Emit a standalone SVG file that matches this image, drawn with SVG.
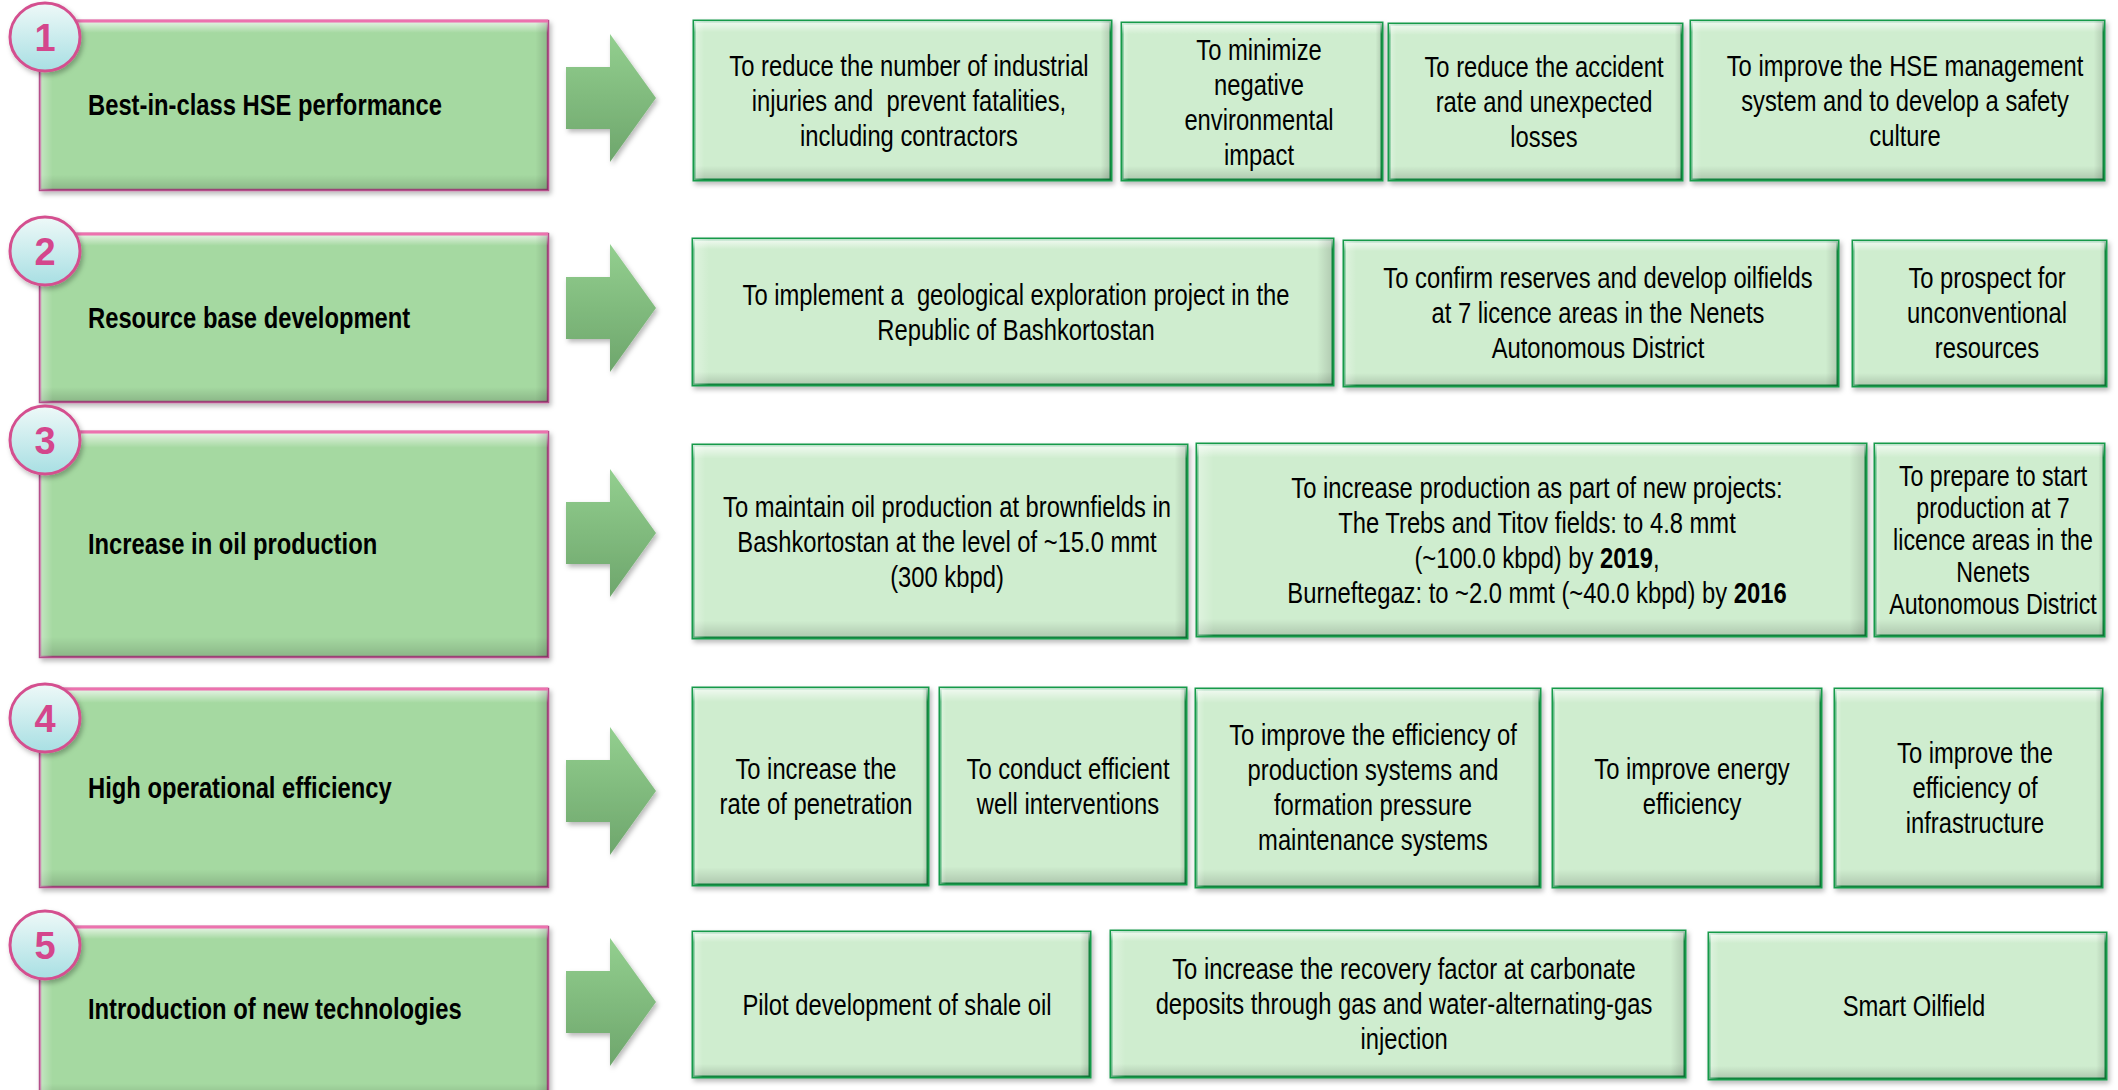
<svg xmlns="http://www.w3.org/2000/svg" xmlns:xlink="http://www.w3.org/1999/xlink" width="2118" height="1090" viewBox="0 0 2118 1090">
<defs>
  <linearGradient id="bevV" x1="0" y1="0" x2="0" y2="1">
    <stop offset="0" stop-color="#ffffff" stop-opacity="0.75"/>
    <stop offset="0.07" stop-color="#ffffff" stop-opacity="0"/>
    <stop offset="0.91" stop-color="#000000" stop-opacity="0"/>
    <stop offset="1" stop-color="#000000" stop-opacity="0.16"/>
  </linearGradient>
  <linearGradient id="bevH" x1="0" y1="0" x2="1" y2="0">
    <stop offset="0" stop-color="#ffffff" stop-opacity="0.35"/>
    <stop offset="0.025" stop-color="#ffffff" stop-opacity="0"/>
    <stop offset="0.975" stop-color="#000000" stop-opacity="0"/>
    <stop offset="1" stop-color="#000000" stop-opacity="0.15"/>
  </linearGradient>
  <linearGradient id="circ" x1="0" y1="0" x2="0" y2="1">
    <stop offset="0" stop-color="#eef9f8"/>
    <stop offset="1" stop-color="#a8dfe3"/>
  </linearGradient>
  <linearGradient id="arrG" x1="0" y1="0" x2="0" y2="1">
    <stop offset="0" stop-color="#93cf8f"/>
    <stop offset="1" stop-color="#6ea66c"/>
  </linearGradient>
  <filter id="sh" x="-10%" y="-10%" width="125%" height="135%">
    <feDropShadow dx="2" dy="3" stdDeviation="2.5" flood-color="#000" flood-opacity="0.28"/>
  </filter>
  <path id="arr" d="M566,-31 H610 V-64 L656,0 L610,64 V31 H566 Z"/>
</defs>
<style>
  .lb { fill:#a5d9a1; stroke:#b4508a; stroke-width:2.5; filter:url(#sh); }
  .lt { stroke:#ec72ae; stroke-width:3; }
  .rb { fill:#cfedcf; stroke:#139a4a; stroke-width:3; filter:url(#sh); }
  .bv { fill:url(#bevV); }
  .bh { fill:url(#bevH); }
  .cir { fill:url(#circ); stroke:#d4508f; stroke-width:3; filter:url(#sh); }
  .num { font-family:"Liberation Sans", Arial, sans-serif; font-weight:bold; font-size:38px; fill:#d4468c; text-anchor:middle; }
  .t { font-family:"Liberation Sans", Arial, sans-serif; font-size:29px; fill:#000; text-anchor:middle; }
  .h { font-family:"Liberation Sans", Arial, sans-serif; font-size:29px; font-weight:bold; fill:#000; }
  .b { font-weight:bold; }
  .ar { fill:url(#arrG); filter:url(#sh); }
</style>
<rect width="2118" height="1090" fill="#ffffff"/>

<!-- Left category boxes -->
<g id="cat1">
  <rect class="lb" x="40" y="21" width="508" height="169"/>
  <rect class="bv" x="40" y="21" width="508" height="169"/>
  <rect class="bh" x="40" y="21" width="508" height="169"/>
  <line class="lt" x1="40" y1="21" x2="548" y2="21"/>
  <ellipse class="cir" cx="45" cy="37" rx="35" ry="34"/>
  <text class="num" x="45" y="51">1</text>
  <text class="h" transform="translate(88,115) scale(0.82,1)">Best-in-class HSE performance</text>
</g>
<g id="cat2">
  <rect class="lb" x="40" y="234" width="508" height="168"/>
  <rect class="bv" x="40" y="234" width="508" height="168"/>
  <rect class="bh" x="40" y="234" width="508" height="168"/>
  <line class="lt" x1="40" y1="234" x2="548" y2="234"/>
  <ellipse class="cir" cx="45" cy="251" rx="35" ry="34"/>
  <text class="num" x="45" y="265">2</text>
  <text class="h" transform="translate(88,328) scale(0.82,1)">Resource base development</text>
</g>
<g id="cat3">
  <rect class="lb" x="40" y="432" width="508" height="225"/>
  <rect class="bv" x="40" y="432" width="508" height="225"/>
  <rect class="bh" x="40" y="432" width="508" height="225"/>
  <line class="lt" x1="40" y1="432" x2="548" y2="432"/>
  <ellipse class="cir" cx="45" cy="440" rx="35" ry="34"/>
  <text class="num" x="45" y="454">3</text>
  <text class="h" transform="translate(88,554) scale(0.82,1)">Increase in oil production</text>
</g>
<g id="cat4">
  <rect class="lb" x="40" y="689" width="508" height="198"/>
  <rect class="bv" x="40" y="689" width="508" height="198"/>
  <rect class="bh" x="40" y="689" width="508" height="198"/>
  <line class="lt" x1="40" y1="689" x2="548" y2="689"/>
  <ellipse class="cir" cx="45" cy="718" rx="35" ry="34"/>
  <text class="num" x="45" y="732">4</text>
  <text class="h" transform="translate(88,798) scale(0.82,1)">High operational efficiency</text>
</g>
<g id="cat5">
  <rect class="lb" x="40" y="927" width="508" height="172"/>
  <rect class="bv" x="40" y="927" width="508" height="172"/>
  <rect class="bh" x="40" y="927" width="508" height="172"/>
  <line class="lt" x1="40" y1="927" x2="548" y2="927"/>
  <ellipse class="cir" cx="45" cy="945" rx="35" ry="34"/>
  <text class="num" x="45" y="959">5</text>
  <text class="h" transform="translate(88,1019) scale(0.82,1)">Introduction of new technologies</text>
</g>

<!-- Connectors (block arrows) -->
<g id="connectors">
  <use class="ar" xlink:href="#arr" href="#arr" transform="translate(0,98)"/>
  <use class="ar" xlink:href="#arr" href="#arr" transform="translate(0,308)"/>
  <use class="ar" xlink:href="#arr" href="#arr" transform="translate(0,533)"/>
  <use class="ar" xlink:href="#arr" href="#arr" transform="translate(0,791)"/>
  <use class="ar" xlink:href="#arr" href="#arr" transform="translate(0,1002)"/>
</g>

<!-- Row 1 goals -->
<g id="g1a">
  <rect class="rb" x="694" y="21" width="417" height="159"/>
  <rect class="bv" x="694" y="21" width="417" height="159"/><rect class="bh" x="694" y="21" width="417" height="159"/>
  <text class="t" xml:space="preserve" transform="translate(909,0) scale(0.82,1)"><tspan x="0" y="76">To reduce the number of industrial</tspan><tspan x="0" y="111">injuries and  prevent fatalities,</tspan><tspan x="0" y="146">including contractors</tspan></text>
</g>
<g id="g1b">
  <rect class="rb" x="1122" y="23" width="260" height="157"/>
  <rect class="bv" x="1122" y="23" width="260" height="157"/><rect class="bh" x="1122" y="23" width="260" height="157"/>
  <text class="t" transform="translate(1259,0) scale(0.82,1)"><tspan x="0" y="60">To minimize</tspan><tspan x="0" y="95">negative</tspan><tspan x="0" y="130">environmental</tspan><tspan x="0" y="165">impact</tspan></text>
</g>
<g id="g1c">
  <rect class="rb" x="1389" y="24" width="293" height="156"/>
  <rect class="bv" x="1389" y="24" width="293" height="156"/><rect class="bh" x="1389" y="24" width="293" height="156"/>
  <text class="t" transform="translate(1544,0) scale(0.82,1)"><tspan x="0" y="77">To reduce the accident</tspan><tspan x="0" y="112">rate and unexpected</tspan><tspan x="0" y="147">losses</tspan></text>
</g>
<g id="g1d">
  <rect class="rb" x="1691" y="21" width="413" height="159"/>
  <rect class="bv" x="1691" y="21" width="413" height="159"/><rect class="bh" x="1691" y="21" width="413" height="159"/>
  <text class="t" transform="translate(1905,0) scale(0.82,1)"><tspan x="0" y="76">To improve the HSE management</tspan><tspan x="0" y="111">system and to develop a safety</tspan><tspan x="0" y="146">culture</tspan></text>
</g>

<!-- Row 2 goals -->
<g id="g2a">
  <rect class="rb" x="693" y="239" width="640" height="146"/>
  <rect class="bv" x="693" y="239" width="640" height="146"/><rect class="bh" x="693" y="239" width="640" height="146"/>
  <text class="t" xml:space="preserve" transform="translate(1016,0) scale(0.82,1)"><tspan x="0" y="305">To implement a  geological exploration project in the</tspan><tspan x="0" y="340">Republic of Bashkortostan</tspan></text>
</g>
<g id="g2b">
  <rect class="rb" x="1344" y="241" width="494" height="145"/>
  <rect class="bv" x="1344" y="241" width="494" height="145"/><rect class="bh" x="1344" y="241" width="494" height="145"/>
  <text class="t" transform="translate(1598,0) scale(0.82,1)"><tspan x="0" y="288">To confirm reserves and develop oilfields</tspan><tspan x="0" y="323">at 7 licence areas in the Nenets</tspan><tspan x="0" y="358">Autonomous District</tspan></text>
</g>
<g id="g2c">
  <rect class="rb" x="1853" y="241" width="253" height="145"/>
  <rect class="bv" x="1853" y="241" width="253" height="145"/><rect class="bh" x="1853" y="241" width="253" height="145"/>
  <text class="t" transform="translate(1987,0) scale(0.82,1)"><tspan x="0" y="288">To prospect for</tspan><tspan x="0" y="323">unconventional</tspan><tspan x="0" y="358">resources</tspan></text>
</g>

<!-- Row 3 goals -->
<g id="g3a">
  <rect class="rb" x="693" y="445" width="494" height="193"/>
  <rect class="bv" x="693" y="445" width="494" height="193"/><rect class="bh" x="693" y="445" width="494" height="193"/>
  <text class="t" transform="translate(947,0) scale(0.82,1)"><tspan x="0" y="517">To maintain oil production at brownfields in</tspan><tspan x="0" y="552">Bashkortostan at the level of ~15.0 mmt</tspan><tspan x="0" y="587">(300 kbpd)</tspan></text>
</g>
<g id="g3b">
  <rect class="rb" x="1197" y="444" width="669" height="192"/>
  <rect class="bv" x="1197" y="444" width="669" height="192"/><rect class="bh" x="1197" y="444" width="669" height="192"/>
  <text class="t" transform="translate(1537,0) scale(0.82,1)"><tspan x="0" y="498">To increase production as part of new projects:</tspan><tspan x="0" y="533">The Trebs and Titov fields: to 4.8 mmt</tspan><tspan x="0" y="568">(~100.0 kbpd) by <tspan class="b">2019</tspan>,</tspan><tspan x="0" y="603">Burneftegaz: to ~2.0 mmt (~40.0 kbpd) by <tspan class="b">2016</tspan></tspan></text>
</g>
<g id="g3c">
  <rect class="rb" x="1875" y="444" width="229" height="192"/>
  <rect class="bv" x="1875" y="444" width="229" height="192"/><rect class="bh" x="1875" y="444" width="229" height="192"/>
  <text class="t" transform="translate(1993,0) scale(0.8,1)"><tspan x="0" y="486">To prepare to start</tspan><tspan x="0" y="518">production at 7</tspan><tspan x="0" y="550">licence areas in the</tspan><tspan x="0" y="582">Nenets</tspan><tspan x="0" y="614">Autonomous District</tspan></text>
</g>

<!-- Row 4 goals -->
<g id="g4a">
  <rect class="rb" x="693" y="688" width="235" height="197"/>
  <rect class="bv" x="693" y="688" width="235" height="197"/><rect class="bh" x="693" y="688" width="235" height="197"/>
  <text class="t" transform="translate(816,0) scale(0.82,1)"><tspan x="0" y="779">To increase the</tspan><tspan x="0" y="814">rate of penetration</tspan></text>
</g>
<g id="g4b">
  <rect class="rb" x="940" y="688" width="246" height="196"/>
  <rect class="bv" x="940" y="688" width="246" height="196"/><rect class="bh" x="940" y="688" width="246" height="196"/>
  <text class="t" transform="translate(1068,0) scale(0.82,1)"><tspan x="0" y="779">To conduct efficient</tspan><tspan x="0" y="814">well interventions</tspan></text>
</g>
<g id="g4c">
  <rect class="rb" x="1196" y="689" width="344" height="198"/>
  <rect class="bv" x="1196" y="689" width="344" height="198"/><rect class="bh" x="1196" y="689" width="344" height="198"/>
  <text class="t" transform="translate(1373,0) scale(0.82,1)"><tspan x="0" y="745">To improve the efficiency of</tspan><tspan x="0" y="780">production systems and</tspan><tspan x="0" y="815">formation pressure</tspan><tspan x="0" y="850">maintenance systems</tspan></text>
</g>
<g id="g4d">
  <rect class="rb" x="1553" y="689" width="268" height="198"/>
  <rect class="bv" x="1553" y="689" width="268" height="198"/><rect class="bh" x="1553" y="689" width="268" height="198"/>
  <text class="t" transform="translate(1692,0) scale(0.82,1)"><tspan x="0" y="779">To improve energy</tspan><tspan x="0" y="814">efficiency</tspan></text>
</g>
<g id="g4e">
  <rect class="rb" x="1835" y="689" width="267" height="198"/>
  <rect class="bv" x="1835" y="689" width="267" height="198"/><rect class="bh" x="1835" y="689" width="267" height="198"/>
  <text class="t" transform="translate(1975,0) scale(0.82,1)"><tspan x="0" y="763">To improve the</tspan><tspan x="0" y="798">efficiency of</tspan><tspan x="0" y="833">infrastructure</tspan></text>
</g>

<!-- Row 5 goals -->
<g id="g5a">
  <rect class="rb" x="693" y="932" width="397" height="145"/>
  <rect class="bv" x="693" y="932" width="397" height="145"/><rect class="bh" x="693" y="932" width="397" height="145"/>
  <text class="t" transform="translate(897,0) scale(0.82,1)"><tspan x="0" y="1015">Pilot development of shale oil</tspan></text>
</g>
<g id="g5b">
  <rect class="rb" x="1111" y="931" width="574" height="146"/>
  <rect class="bv" x="1111" y="931" width="574" height="146"/><rect class="bh" x="1111" y="931" width="574" height="146"/>
  <text class="t" transform="translate(1404,0) scale(0.82,1)"><tspan x="0" y="979">To increase the recovery factor at carbonate</tspan><tspan x="0" y="1014">deposits through gas and water-alternating-gas</tspan><tspan x="0" y="1049">injection</tspan></text>
</g>
<g id="g5c">
  <rect class="rb" x="1709" y="933" width="397" height="146"/>
  <rect class="bv" x="1709" y="933" width="397" height="146"/><rect class="bh" x="1709" y="933" width="397" height="146"/>
  <text class="t" transform="translate(1914,0) scale(0.82,1)"><tspan x="0" y="1016">Smart Oilfield</tspan></text>
</g>
</svg>
